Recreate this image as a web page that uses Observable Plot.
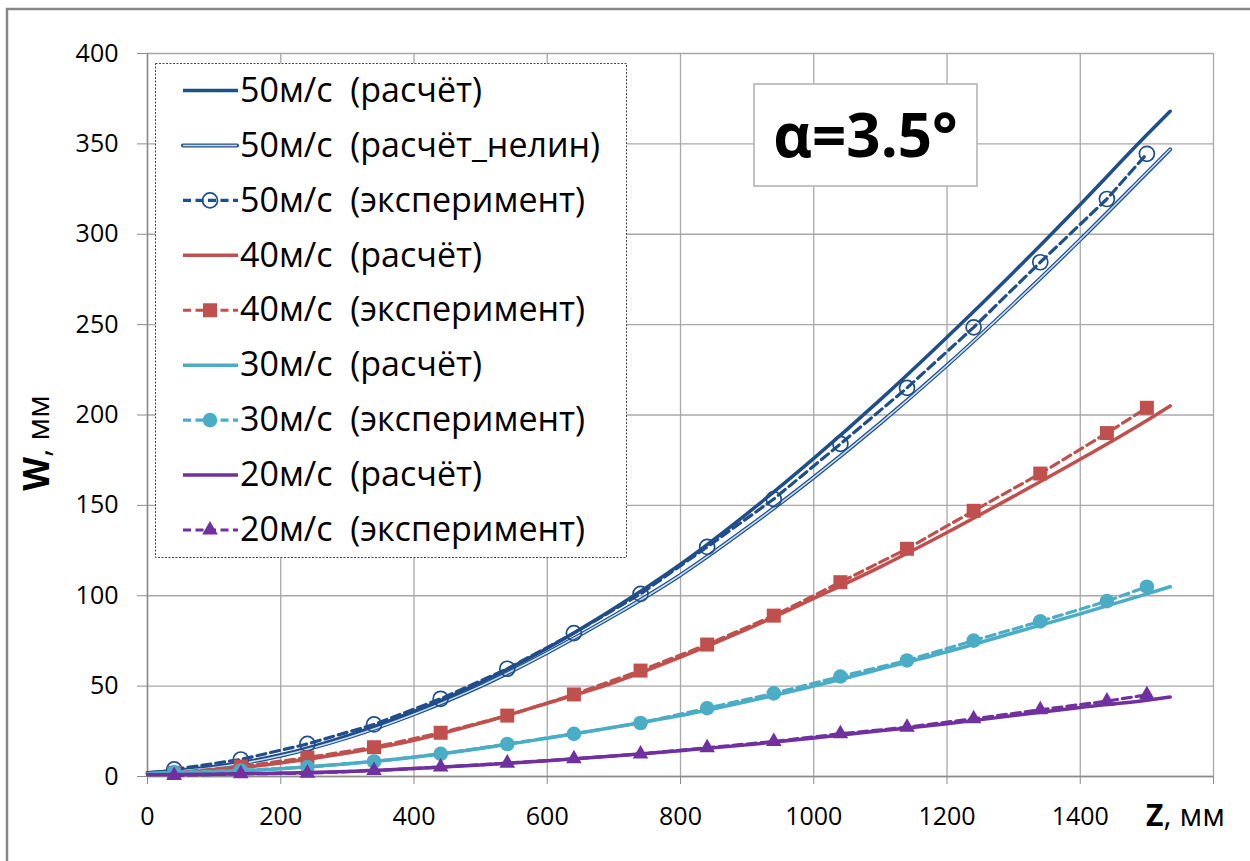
<!DOCTYPE html>
<html><head><meta charset="utf-8">
<script src="https://cdn.jsdelivr.net/npm/d3@7"></script>
<script src="https://cdn.jsdelivr.net/npm/@observablehq/plot@0.6"></script>
<style>
body{margin:0;background:#fff}
#chart{position:relative;width:1250px;height:861px;overflow:hidden;background:#fff}
</style>
</head><body><div id="chart"></div>
<script>
// ---- data ----
const zCalc = [0,100,200,300,400,500,600,700,800,900,1000,1100,1200,1300,1400,1500,1535];
const zExp  = [40,140,240,340,440,540,640,740,840,940,1040,1140,1240,1340,1440,1500];

const w50calc  = [2,5.5,12,22.5,36,52,71,93,117.5,145.5,176,208.5,243,279,316.5,355,368];
const w50nelin = [2,5,11.5,21.5,34.5,50,68.5,89,111.5,137.5,165.5,195.5,227.5,261.5,297,334,347];
const w50exp   = [3.9,9.4,18,28.8,43,59.6,79.3,101,127,153.5,184,215,248.5,284.5,319.5,344.5];

const w40calc  = [1.5,3.5,7.5,13,20,29.5,40.5,52,66,81.5,98.5,116,135,155,175.5,197,205];
const w40exp   = [2,5.5,10.5,16.2,24.2,33.7,45.4,58.6,73,89,107.5,126,147,167.6,190,204];

const w30calc  = [1.5,2.5,4.3,7,10.7,15.5,21.2,27.3,33.7,41.5,50,59.5,69,79.5,90,101,105];
const w30exp   = [2.4,3.3,5.2,8.3,12.5,18,23.6,29.6,37.8,46,55.3,64.2,75.2,85.8,97,105];

const w20calc  = [1,1.2,1.9,2.8,4.4,6.4,8.7,11.3,14.3,17.5,21.3,25.3,29.2,33.7,38.2,42.2,44];
const w20exp   = [0.5,1.5,1.8,3.3,5.2,7.4,9.8,12.5,15.9,19.4,23.6,27.3,31.9,36.9,41.7,45.2];

const xTicks = [0,200,400,600,800,1000,1200,1400,1600];
const yTicks = [0,50,100,150,200,250,300,350,400];

const legendLabels = [
  "50м/с  (расчёт)",
  "50м/с  (расчёт_нелин)",
  "50м/с  (эксперимент)",
  "40м/с  (расчёт)",
  "40м/с  (эксперимент)",
  "30м/с  (расчёт)",
  "30м/с  (эксперимент)",
  "20м/с  (расчёт)",
  "20м/с  (эксперимент)"
];
const annotation = "α=3.5°";

// ---- styles ----
const C50 = "#1f4e8a", C40 = "#c0504d", C30 = "#4bacc6", C20 = "#7030a0", CNL = "#c5dcf2";
const FONT = "'Open Sans', 'DejaVu Sans', sans-serif";

const rows = (xs, ys) => xs.map((x, i) => ({x, y: ys[i]}));
const calc = (ys, c) => Plot.line(rows(zCalc, ys), {x: "x", y: "y", stroke: c, strokeWidth: 3.5, curve: "monotone-x"});
const dashed = (ys, c) => Plot.line(rows(zExp, ys), {x: "x", y: "y", stroke: c, strokeWidth: 3.2, strokeDasharray: "9,5"});

const plot = Plot.plot({
  width: 1250, height: 861,
  marginLeft: 147, marginRight: 37, marginTop: 53, marginBottom: 85,
  style: {fontFamily: FONT, background: "transparent", overflow: "visible"},
  x: {domain: [0, 1600]},
  y: {domain: [0, 400]},
  marks: [
    Plot.gridY(yTicks, {stroke: "#a8a8a8", strokeOpacity: 1, strokeWidth: 1.3}),
    Plot.gridX(xTicks, {stroke: "#a8a8a8", strokeOpacity: 1, strokeWidth: 1.3}),
    Plot.ruleX([0], {stroke: "#8c8c8c", strokeWidth: 1.5}),
    Plot.ruleY([0], {stroke: "#8c8c8c", strokeWidth: 1.5}),
    Plot.axisY(yTicks, {tickSize: 10, tickPadding: 19, fontSize: 25, stroke: "#8c8c8c", fill: "#000", label: null}),
    Plot.axisX(xTicks, {tickSize: 8, tickPadding: 23, fontSize: 25, stroke: "#8c8c8c", fill: "#000", label: null,
      tickFormat: d => d === 1600 ? "" : String(d)}),
    // 50 m/s
    calc(w50calc, C50),
    Plot.line(rows(zCalc, w50nelin), {x: "x", y: "y", stroke: C50, strokeWidth: 4, curve: "monotone-x"}),
    Plot.line(rows(zCalc, w50nelin), {x: "x", y: "y", stroke: CNL, strokeWidth: 1.6, curve: "monotone-x"}),
    dashed(w50exp, C50),
    Plot.dot(rows(zExp, w50exp), {x: "x", y: "y", r: 7.5, stroke: C50, strokeWidth: 1.7, fill: "none"}),
    // 40 m/s
    calc(w40calc, C40),
    dashed(w40exp, C40),
    Plot.dot(rows(zExp, w40exp), {x: "x", y: "y", symbol: "square", r: 7.9, fill: C40, stroke: "none"}),
    // 30 m/s
    calc(w30calc, C30),
    dashed(w30exp, C30),
    Plot.dot(rows(zExp, w30exp), {x: "x", y: "y", r: 7.3, fill: C30, stroke: "none"}),
    // 20 m/s
    calc(w20calc, C20),
    dashed(w20exp, C20),
    Plot.dot(rows(zExp, w20exp), {x: "x", y: "y", symbol: "triangle", r: 5.8, fill: C20, stroke: "none"})
  ]
});

document.getElementById("chart").appendChild(plot);
const svg = d3.select(plot);

// outer frame
svg.append("rect").attr("x", 7).attr("y", 9).attr("width", 1300).attr("height", 900)
  .attr("fill", "none").attr("stroke", "#878787").attr("stroke-width", 2.5);

// legend
const lg = svg.append("g").attr("font-family", FONT).attr("text-anchor", "start");
lg.append("rect").attr("x", 155.5).attr("y", 63.5).attr("width", 471).attr("height", 494)
  .attr("fill", "#fff").attr("stroke", "#444").attr("stroke-width", 1).attr("stroke-dasharray", "2,1.5");
const legendStyle = [
  {c: C50, type: "solid"},
  {c: C50, type: "double"},
  {c: C50, type: "dash", sym: "open"},
  {c: C40, type: "solid"},
  {c: C40, type: "dash", sym: "square"},
  {c: C30, type: "solid"},
  {c: C30, type: "dash", sym: "circle"},
  {c: C20, type: "solid"},
  {c: C20, type: "dash", sym: "triangle"}
];
legendLabels.forEach((t, i) => {
  const cy = 89.5 + i * 54.94;
  const s = legendStyle[i];
  const ly = cy + 1;
  if (s.type === "double") {
    lg.append("line").attr("x1", 183).attr("x2", 237).attr("y1", ly).attr("y2", ly)
      .attr("stroke", s.c).attr("stroke-width", 4).attr("stroke-linecap", "round");
    lg.append("line").attr("x1", 183).attr("x2", 237).attr("y1", ly).attr("y2", ly)
      .attr("stroke", CNL).attr("stroke-width", 1.6);
  } else {
    lg.append("line").attr("x1", 183).attr("x2", 238).attr("y1", ly).attr("y2", ly)
      .attr("stroke", s.c).attr("stroke-width", s.type === "dash" ? 3.2 : 3.5)
      .attr("stroke-dasharray", s.type === "dash" ? "8,4.5" : null);
  }
  if (s.sym === "open") {
    lg.append("circle").attr("cx", 210).attr("cy", ly).attr("r", 7.5).attr("fill", "none").attr("stroke", s.c).attr("stroke-width", 1.7);
  } else if (s.sym === "square") {
    lg.append("rect").attr("x", 210 - 7).attr("y", ly - 7).attr("width", 14).attr("height", 14).attr("fill", s.c);
  } else if (s.sym === "circle") {
    lg.append("circle").attr("cx", 210).attr("cy", ly).attr("r", 7.3).attr("fill", s.c);
  } else if (s.sym === "triangle") {
    lg.append("path").attr("d", d3.symbol(d3.symbolTriangle, Math.PI * 5.8 * 5.8)()).attr("transform", `translate(210,${ly})`).attr("fill", s.c);
  }
  lg.append("text").attr("x", 240).attr("y", cy + 12.2).attr("font-size", 34).attr("fill", "#000")
    .attr("text-anchor", "start").style("white-space", "pre").text(t);
});

// annotation box
svg.append("rect").attr("x", 754).attr("y", 84).attr("width", 223).attr("height", 102)
  .attr("fill", "#fff").attr("stroke", "#b4b4b4").attr("stroke-width", 1.6);
svg.append("text").attr("x", 865.5).attr("y", 157).attr("text-anchor", "middle")
  .attr("font-family", FONT).attr("font-size", 60).attr("font-weight", "bold").attr("fill", "#000").text(annotation);

// axis titles
const yl = svg.append("text").attr("transform", "translate(49,443) rotate(-90)").attr("text-anchor", "middle")
  .attr("font-family", FONT).attr("fill", "#000");
yl.append("tspan").attr("font-size", 35).attr("font-weight", "bold").text("W");
yl.append("tspan").attr("font-size", 31).text(", мм");

const xl = svg.append("text").attr("x", 1146).attr("y", 826).attr("text-anchor", "start")
  .attr("font-family", FONT).attr("fill", "#000");
xl.append("tspan").attr("font-size", 30).attr("font-weight", "bold").text("Z");
xl.append("tspan").attr("font-size", 31).text(", мм");
</script>
</body></html>
